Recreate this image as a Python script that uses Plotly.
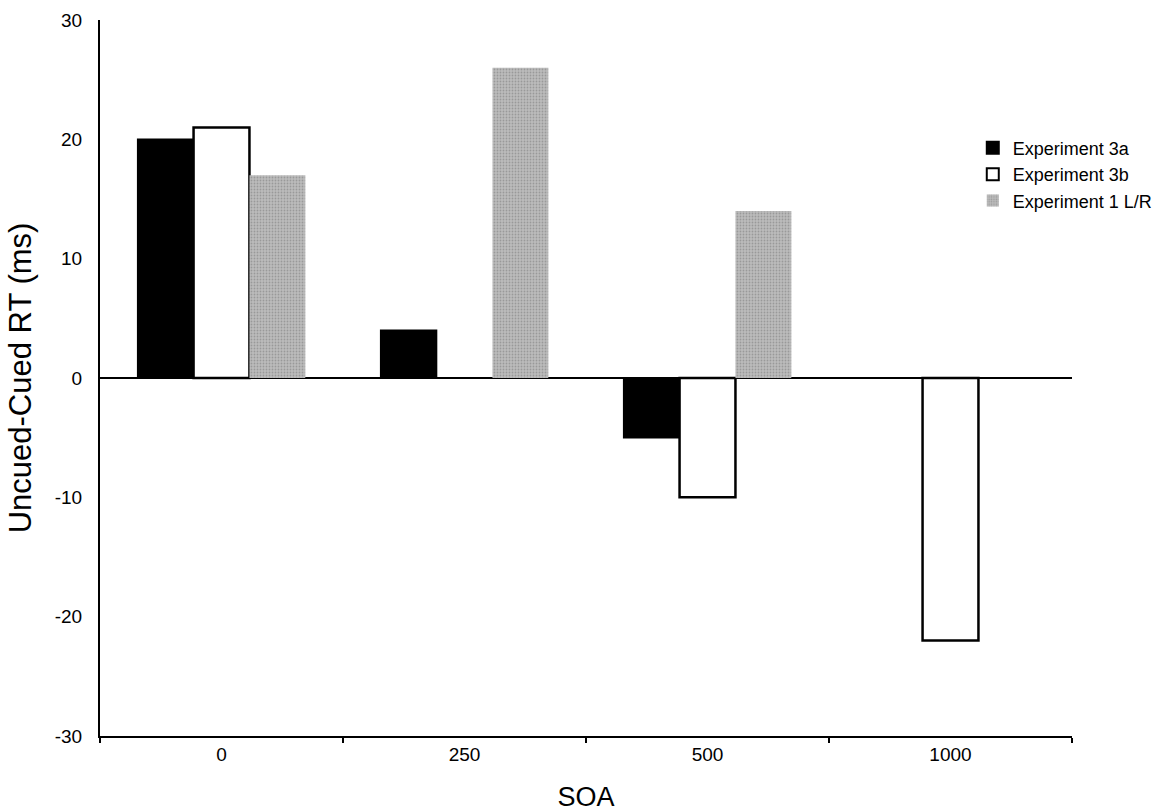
import plotly.graph_objects as go

categories = ["0", "250", "500", "1000"]
exp3a = [20, 4, -5, None]
exp3b = [21, None, -10, -22]
exp1lr = [17, 26, 14, None]
yticks = [-30, -20, -10, 0, 10, 20, 30]
yticktext = ["-30", "-20", "-10", "0", "10", "20", "30"]

fig = go.Figure()
fig.add_trace(go.Bar(x=categories, y=exp3a, name="Experiment 3a",
                     marker=dict(color="black", line=dict(color="black", width=1.5))))
fig.add_trace(go.Bar(x=categories, y=exp3b, name="Experiment 3b",
                     marker=dict(color="white", line=dict(color="black", width=2.5))))
fig.add_trace(go.Bar(x=categories, y=exp1lr, name="Experiment 1 L/R",
                     marker=dict(color="#b0b0b0", line=dict(width=0),
                                 pattern=dict(shape=".", fgcolor="#767676", bgcolor="#bcbcbc",
                                              size=3, solidity=0.3))))

font = "Liberation Sans, Arial, Helvetica, sans-serif"
fig.update_layout(
    width=1169, height=812,
    margin=dict(l=100, r=96, t=20, b=76),
    paper_bgcolor="white", plot_bgcolor="white",
    barmode="group", bargap=0.31, bargroupgap=0,
    font=dict(family=font, size=19, color="black"),
    showlegend=True,
    legend=dict(x=0.897, y=0.847, xanchor="left", yanchor="top",
                font=dict(size=18), bgcolor="rgba(0,0,0,0)",
                itemsizing="constant", tracegroupgap=0, itemwidth=30),
    xaxis=dict(type="category", showline=True, linecolor="black", linewidth=2,
               tickson="boundaries", ticks="outside", ticklen=5, tickwidth=1.5, tickcolor="black",
               showgrid=False, range=[-0.5, 3.5], tickfont=dict(size=19), automargin=False,
               title=dict(text="SOA", font=dict(size=27), standoff=24)),
    yaxis=dict(range=[-30, 30], tickvals=yticks, ticktext=yticktext,
               showline=True, linecolor="black", linewidth=2, ticks="",
               showgrid=False, zeroline=True, zerolinecolor="black", zerolinewidth=2,
               tickfont=dict(size=19), ticklabelstandoff=12, automargin=False,
               title=dict(text="Uncued-Cued RT (ms)", font=dict(size=31), standoff=14)),
)
fig.write_html("out.html")
